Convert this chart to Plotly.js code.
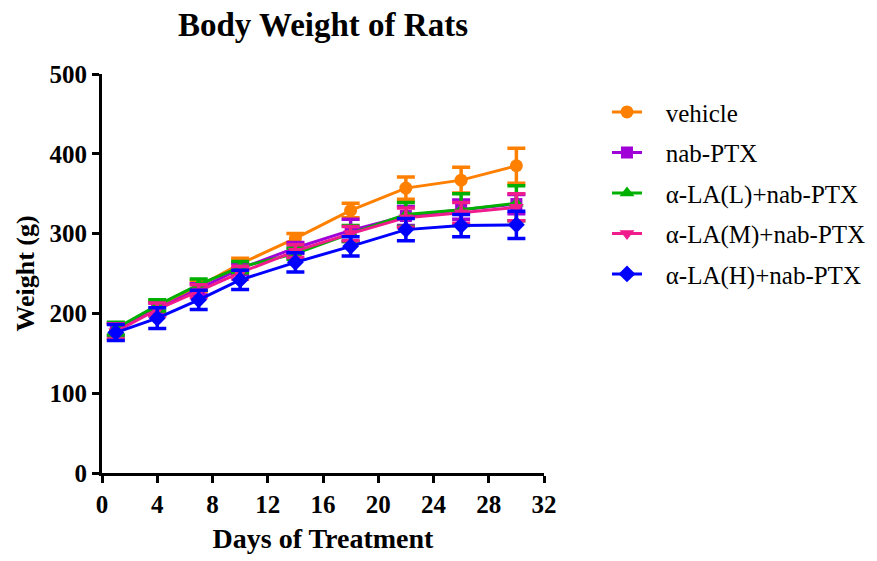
<!DOCTYPE html>
<html>
<head>
<meta charset="utf-8">
<script src="https://cdn.plot.ly/plotly-3.0.1.min.js"></script>
<style>html,body{margin:0;padding:0;background:#fff;}#chart{width:877px;height:561px;}</style>
</head>
<body>
<div id="chart"></div>
<script>
const days = [1, 4, 7, 10, 14, 18, 22, 26, 30];
const seriesNames = ["vehicle", "nab-PTX", "α-LA(L)+nab-PTX", "α-LA(M)+nab-PTX", "α-LA(H)+nab-PTX"];
const vehicle = [178, 208, 234, 262, 294, 329, 357, 367, 385];
const vehicleErr = [9, 8, 7, 7, 6, 9, 14, 16, 22];
const nabPTX = [180, 205, 230, 256, 282, 304, 322, 330, 337];
const nabPTXErr = [8, 8, 7, 7, 7, 14, 12, 12, 12];
const laL = [181, 210, 236, 258, 275, 300, 324, 330, 338];
const laLErr = [8, 7, 7, 7, 7, 10, 15, 20, 22];
const laM = [177, 205, 228, 251, 278, 300, 320, 326, 333];
const laMErr = [10, 8, 8, 8, 8, 9, 12, 13, 17];
const laH = [176, 194, 217, 242, 264, 284, 305, 310, 311];
const laHErr = [10, 13, 12, 12, 12, 12, 14, 14, 17];
const xTicks = [0, 4, 8, 12, 16, 20, 24, 28, 32];
const yTicks = [0, 100, 200, 300, 400, 500];

const values = [vehicle, nabPTX, laL, laM, laH];
const errs = [vehicleErr, nabPTXErr, laLErr, laMErr, laHErr];
const colors = ["#FF8000", "#A000D8", "#00B000", "#F01C8C", "#0000FF"];
const symbols = ["circle", "square", "triangle-up", "triangle-down", "diamond"];
const markerSizes = [13, 12, 13, 13, 13];

const traces = seriesNames.map((name, i) => ({
  x: days, y: values[i], name: "\u00a0\u00a0\u00a0" + name, type: "scatter", mode: "lines+markers",
  legendgroup: "g" + i,
  line: {color: colors[i], width: 3},
  marker: {color: colors[i], symbol: symbols[i], size: markerSizes[i]},
  error_y: {type: "data", array: errs[i], visible: true, color: colors[i], thickness: 3.5, width: 9}
}));

const serif = "Liberation Serif, Times New Roman, serif";
const layout = {
  width: 877, height: 561,
  margin: {l: 102, r: 333, t: 74, b: 88, autoexpand: false},
  paper_bgcolor: "#fff", plot_bgcolor: "#fff",
  title: {text: "<b>Body Weight of Rats</b>", font: {family: serif, size: 33, color: "#000"},
          xref: "paper", x: 0.5, xanchor: "center", y: 0.957, yanchor: "middle"},
  xaxis: {range: [0, 32], tickvals: xTicks, ticktext: xTicks.map(v => "<b>" + v + "</b>"),
          showgrid: false, zeroline: false, showline: true, linecolor: "#000", linewidth: 3,
          ticks: "outside", ticklen: 7, tickwidth: 3, tickcolor: "#000", automargin: false,
          tickfont: {family: serif, size: 25, color: "#000"},
          title: {text: "<b>Days of Treatment</b>", font: {family: serif, size: 28, color: "#000"}, standoff: 12}},
  yaxis: {range: [0, 500], tickvals: yTicks, ticktext: yTicks.map(v => "<b>" + v + "</b>"),
          showgrid: false, zeroline: false, showline: true, linecolor: "#000", linewidth: 3,
          ticks: "outside", ticklen: 7, tickwidth: 3, tickcolor: "#000", automargin: false,
          tickfont: {family: serif, size: 25, color: "#000"},
          title: {text: "<b>Weight (g)</b>", font: {family: serif, size: 26, color: "#000"}, standoff: 8}},
  showlegend: true,
  legend: {x: 1.1425, xanchor: "left", y: 0.962, yanchor: "top", traceorder: "grouped", tracegroupgap: 5,
           font: {family: serif, size: 25, color: "#000"}, bgcolor: "rgba(0,0,0,0)", itemwidth: 30}
};

Plotly.newPlot("chart", traces, layout, {displayModeBar: false, staticPlot: true});
</script>
</body>
</html>
